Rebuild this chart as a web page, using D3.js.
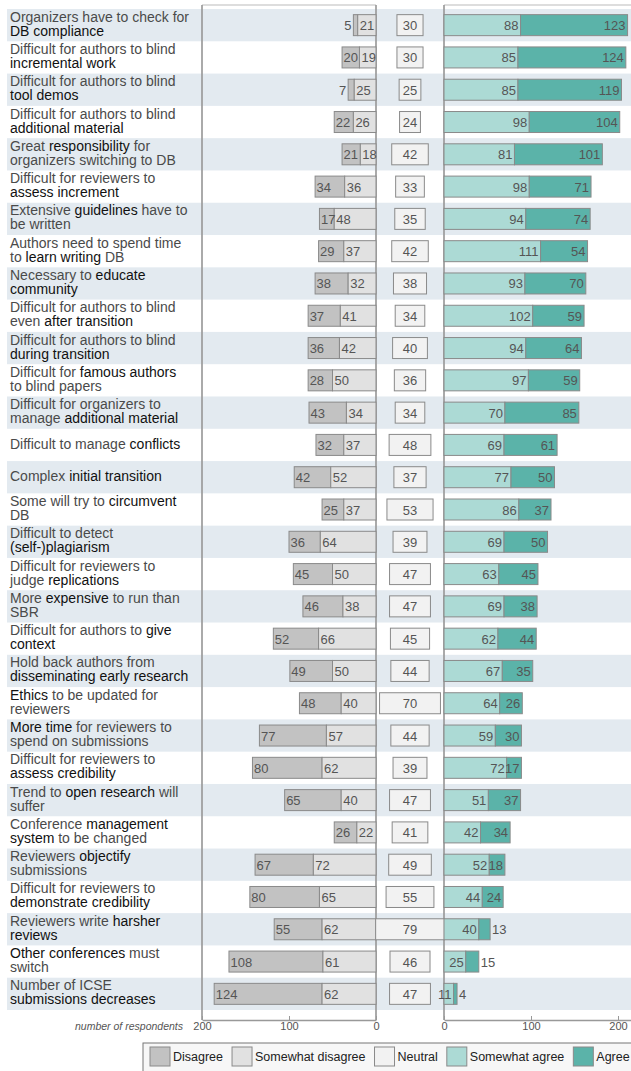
<!DOCTYPE html>
<html>
<head>
<meta charset="utf-8">
<script src="https://cdn.jsdelivr.net/npm/d3@7/dist/d3.min.js"></script>
<style>
  body { margin: 0; background: #fff; }
  svg { display: block; font-family: "Liberation Sans", Arial, sans-serif; }
</style>
</head>
<body>
<div id="graph"></div>
<script>
// statement labels, *...* marks the emphasised words
var labels = [
  ["Organizers have to check for", "*DB compliance*"],
  ["Difficult for authors to blind", "*incremental work*"],
  ["Difficult for authors to blind", "*tool demos*"],
  ["Difficult for authors to blind", "*additional material*"],
  ["Great *responsibility* for", "organizers switching to DB"],
  ["Difficult for reviewers to", "*assess increment*"],
  ["Extensive *guidelines* have to", "be written"],
  ["Authors need to spend time", "to *learn writing* DB"],
  ["Necessary to *educate*", "*community*"],
  ["Difficult for authors to blind", "even *after transition*"],
  ["Difficult for authors to blind", "*during transition*"],
  ["Difficult for *famous authors*", "to blind papers"],
  ["Difficult for organizers to", "manage *additional material*"],
  ["Difficult to manage *conflicts*"],
  ["Complex *initial transition*"],
  ["Some will try to *circumvent*", "DB"],
  ["Difficult to detect", "*(self-)plagiarism*"],
  ["Difficult for reviewers to", "judge *replications*"],
  ["More *expensive* to run than", "SBR"],
  ["Difficult for authors to *give*", "*context*"],
  ["Hold back authors from", "*disseminating early research*"],
  ["*Ethics* to be updated for", "reviewers"],
  ["*More time* for reviewers to", "spend on submissions"],
  ["Difficult for reviewers to", "*assess credibility*"],
  ["Trend to *open research* will", "suffer"],
  ["Conference *management*", "*system* to be changed"],
  ["Reviewers *objectify*", "submissions"],
  ["Difficult for reviewers to", "*demonstrate credibility*"],
  ["Reviewers write *harsher*", "*reviews*"],
  ["*Other conferences* must", "switch"],
  ["Number of ICSE", "*submissions decreases*"]
]
var disagree         = [5, 20, 7, 22, 21, 34, 17, 29, 38, 37, 36, 28, 43, 32, 42, 25, 36, 45, 46, 52, 49, 48, 77, 80, 65, 26, 67, 80, 55, 108, 124]
var somewhatDisagree = [21, 19, 25, 26, 18, 36, 48, 37, 32, 41, 42, 50, 34, 37, 52, 37, 64, 50, 38, 66, 50, 40, 57, 62, 40, 22, 72, 65, 62, 61, 62]
var neutral          = [30, 30, 25, 24, 42, 33, 35, 42, 38, 34, 40, 36, 34, 48, 37, 53, 39, 47, 47, 45, 44, 70, 44, 39, 47, 41, 49, 55, 79, 46, 47]
var somewhatAgree    = [88, 85, 85, 98, 81, 98, 94, 111, 93, 102, 94, 97, 70, 69, 77, 86, 69, 63, 69, 62, 67, 64, 59, 72, 51, 42, 52, 44, 40, 25, 11]
var agree            = [123, 124, 119, 104, 101, 71, 74, 54, 70, 59, 64, 59, 85, 61, 50, 37, 50, 45, 38, 44, 35, 26, 30, 17, 37, 34, 18, 24, 13, 15, 4]
var legendNames = ["Disagree", "Somewhat disagree", "Neutral", "Somewhat agree", "Agree"]
var axisTicks = [0, 100, 200]

var colors = ["#c2c2c2", "#e1e1e1", "#f2f2f2", "#acdad5", "#5bb3a9"]
var width = 631, height = 1071
var topY = 9, bottomY = 1010, axisY = 1020
var barH = 21

var svg = d3.select("#graph").append("svg")
  .attr("width", width).attr("height", height)

var y = d3.scaleBand().domain(d3.range(labels.length)).range([topY, bottomY])
var xL = d3.scaleLinear().domain([200, 0]).range([202, 376])
var xR = d3.scaleLinear().domain([0, 200]).range([444, 618])
var unit = xR(1) - xR(0)
var midX = (xL(0) + xR(0)) / 2

// striped rows
svg.append("g").selectAll("rect")
  .data(d3.range(labels.length).filter(function(i){ return i % 2 == 0 }))
  .enter().append("rect")
  .attr("x", 7).attr("y", function(i){ return y(i) })
  .attr("width", width - 7).attr("height", y.bandwidth())
  .attr("fill", "#e3eaf0")

// panel frames
var frame = svg.append("g").attr("fill", "none")
frame.append("path")
  .attr("d", "M" + xL(200) + "," + axisY + "V5H" + xL(0) + "V" + axisY)
  .attr("stroke", "#bbb").attr("stroke-width", 1)
frame.append("path")
  .attr("d", "M" + xR(0) + "," + axisY + "V5H" + (width + 5))
  .attr("stroke", "#bbb").attr("stroke-width", 1)
frame.selectAll("line.v")
  .data([xL(200), xL(0), xR(0)])
  .enter().append("line")
  .attr("x1", function(d){ return d }).attr("x2", function(d){ return d })
  .attr("y1", 5).attr("y2", axisY)
  .attr("stroke", "#999").attr("stroke-width", 1.5)

// category labels
var lab = svg.append("g").attr("font-size", 14)
labels.forEach(function(lines, i) {
  var cy = y(i) + y.bandwidth() / 2
  var t = lab.append("text").attr("x", 10)
  lines.forEach(function(line, j) {
    var base = cy + 4 + (lines.length == 2 ? (j == 0 ? -7.5 : 6.5) : 0)
    var parts = line.split("*")
    var first = true
    parts.forEach(function(p, k) {
      if (!p) return
      var ts = t.append("tspan").text(p)
        .attr("fill", k % 2 ? "#111" : "#4a4a4a")
      if (first) { ts.attr("x", 10).attr("y", base); first = false }
    })
  })
})

// bars
var rows = d3.range(labels.length).map(function(i) {
  var d = disagree[i], sd = somewhatDisagree[i], n = neutral[i], sa = somewhatAgree[i], a = agree[i]
  return [
    {k: 0, v: d,  x0: xL(d + sd), x1: xL(sd), i: i},
    {k: 1, v: sd, x0: xL(sd), x1: xL(0), i: i},
    {k: 2, v: n,  x0: midX - n * unit / 2, x1: midX + n * unit / 2, i: i},
    {k: 3, v: sa, x0: xR(0), x1: xR(sa), i: i},
    {k: 4, v: a,  x0: xR(sa), x1: xR(sa + a), i: i}
  ]
})
var segs = [].concat.apply([], rows)

var bars = svg.append("g")
bars.selectAll("rect")
  .data(segs)
  .enter().append("rect")
  .attr("x", function(d){ return d.x0 })
  .attr("y", function(d){ return y(d.i) + (y.bandwidth() - barH) / 2 })
  .attr("width", function(d){ return d.x1 - d.x0 })
  .attr("height", barH)
  .attr("fill", function(d){ return colors[d.k] })
  .attr("stroke", "#8a8a8a").attr("stroke-width", 1)

bars.selectAll("text")
  .data(segs)
  .enter().append("text")
  .attr("font-size", 13)
  .attr("fill", "#555")
  .attr("y", function(d){ return y(d.i) + y.bandwidth() / 2 + 5 })
  .attr("x", function(d) {
    var w = d.x1 - d.x0
    if (d.k == 0) return w >= 14 ? d.x0 + 1.5 : d.x0 - 2
    if (d.k == 1) return d.x0 + 2
    if (d.k == 2) return (d.x0 + d.x1) / 2
    if (d.k == 3) return d.x1 - 2
    return w >= 14 ? d.x1 - 2 : d.x1 + 2
  })
  .attr("text-anchor", function(d) {
    var w = d.x1 - d.x0
    if (d.k == 0) return w >= 14 ? "start" : "end"
    if (d.k == 1) return "start"
    if (d.k == 2) return "middle"
    if (d.k == 3) return "end"
    return w >= 14 ? "end" : "start"
  })
  .text(function(d){ return d.v })

// axes
function styleAxis(g) {
  g.selectAll("path").attr("stroke", "#999").attr("stroke-width", 1.5)
  g.selectAll("line").attr("stroke", "#999")
  g.selectAll("text").attr("fill", "#555").attr("font-size", 11)
    .attr("font-family", "Liberation Sans, Arial, sans-serif")
}
svg.append("g").attr("transform", "translate(0," + axisY + ")")
  .call(d3.axisBottom(xL).tickValues(axisTicks).tickSizeInner(-4).tickSizeOuter(0).tickPadding(2))
  .call(styleAxis)
svg.append("g").attr("transform", "translate(0," + axisY + ")")
  .call(d3.axisBottom(d3.scaleLinear().domain([0, 215]).range([xR(0), xR(215)]))
    .tickValues(axisTicks).tickSizeInner(-4).tickSizeOuter(0).tickPadding(2))
  .call(styleAxis)
svg.append("text")
  .attr("x", 183).attr("y", axisY + 10)
  .attr("text-anchor", "end").attr("font-size", 10.5)
  .attr("font-style", "italic").attr("fill", "#555")
  .text("number of respondents")

// legend
var leg = svg.append("g")
leg.append("rect")
  .attr("x", 143).attr("y", 1043).attr("width", 500).attr("height", 40)
  .attr("fill", "#f7f7f7").attr("stroke", "#777")
var lx = 150
legendNames.forEach(function(name, i) {
  leg.append("rect")
    .attr("x", lx).attr("y", 1047).attr("width", 20).attr("height", 19)
    .attr("fill", colors[i]).attr("stroke", "#8a8a8a")
  var t = leg.append("text")
    .attr("x", lx + 23).attr("y", 1061)
    .attr("font-size", 12.5).attr("fill", "#222")
    .text(name)
  lx += 23 + t.node().getComputedTextLength() + 9
})
</script>
</body>
</html>
